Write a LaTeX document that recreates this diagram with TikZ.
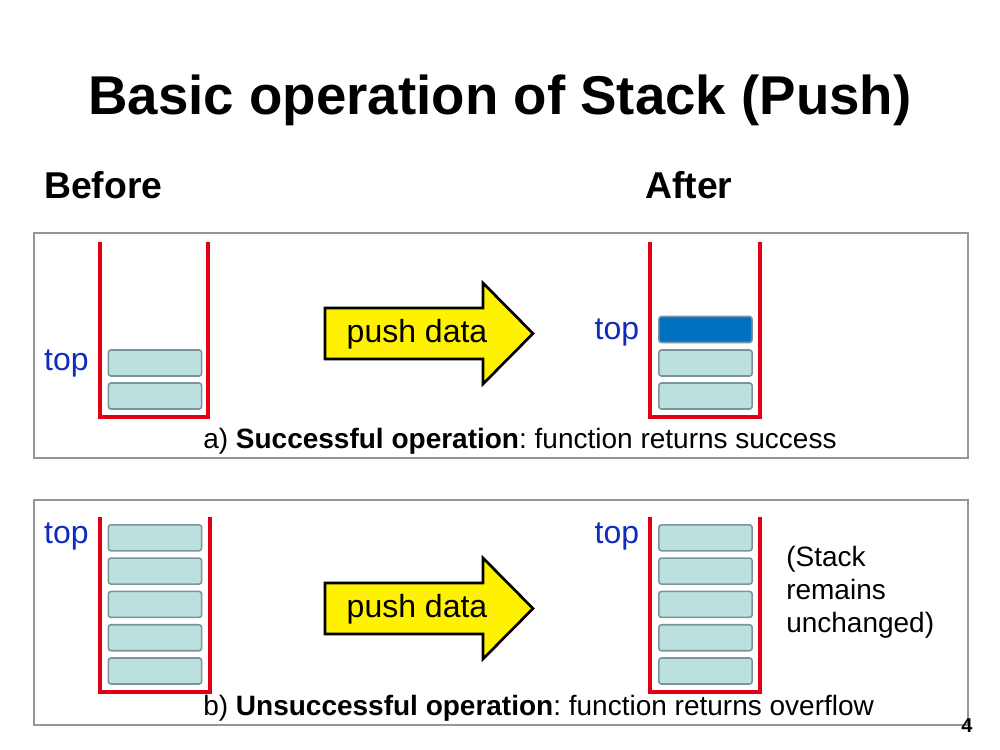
\documentclass[tikz,border=0pt]{standalone}
\usepackage{fontspec}
\setmainfont{Liberation Sans}
\frenchspacing
\usetikzlibrary{calc}
\definecolor{framegray}{RGB}{150,150,150}
\definecolor{wallred}{RGB}{228,0,20}
\definecolor{cellfill}{RGB}{188,224,222}
\definecolor{celldraw}{RGB}{122,148,158}
\definecolor{pushedblue}{RGB}{0,112,192}
\definecolor{labelblue}{RGB}{16,44,190}
\tikzstyle{panel}=[draw=framegray, line width=2pt]
\tikzstyle{wall}=[draw=wallred, line width=2.3pt]
\tikzstyle{cell}=[rectangle,
                  rounded corners=2pt,
                  draw=celldraw,
                  line width=1.2pt,
                  fill=cellfill,
                  minimum width=70pt,
                  minimum height=19.5pt,
                  inner sep=0pt]
\tikzstyle{pushed}=[cell, fill=pushedblue]
\tikzstyle{toplabel}=[text=labelblue, inner sep=0pt, font=\fontsize{24}{28}\selectfont]
\tikzstyle{pusharrow}=[draw=black, line width=2pt, fill=yellow, line join=miter]
\tikzstyle{arrowtext}=[inner sep=0pt, anchor=base, font=\fontsize{24}{28}\selectfont]
\tikzstyle{caption}=[inner sep=0pt, font=\fontsize{21}{24.75}\selectfont]
\begin{document}
\begin{tikzpicture}[x=0.75pt, y=-0.75pt]
    \useasboundingbox (0,0) rectangle (1000,750);
    \node[inner sep=0pt, anchor=base, font=\bfseries\fontsize{41}{48}\selectfont] (title) at (500,114) {Basic operation of Stack (Push)};
    \node[inner sep=0pt, anchor=base west, font=\bfseries\fontsize{28}{33}\selectfont] (before) at (44,198) {Before};
    \node[inner sep=0pt, anchor=base west, font=\bfseries\fontsize{28}{33}\selectfont] (after) at (645,198) {After};

    \draw[panel] (34,233) rectangle (968,458);
    \draw[panel] (34,500) rectangle (968,725);

    \draw[wall] (100,242) |- (208,417) -- (208,242);
    \foreach \i in {1,2}
        \node[cell] (a\i) at (155,{396-33*(\i-1)}) {};
    \node[toplabel, anchor=base east] (topa) at ([xshift=-14pt,yshift=4.5pt]a2.south west) {top};

    \draw[pusharrow] (325,308) -- (483,308) -- (483,283) -- (533,333.5) -- (483,384) -- (483,359) -- (325,359) -- cycle;
    \node[arrowtext] (pusha) at (417,342) {push data};

    \draw[wall] (650,242) |- (760,417) -- (760,242);
    \foreach \i in {1,2}
        \node[cell] (c\i) at (705.5,{396-33*(\i-1)}) {};
    \node[pushed] (c3) at (705.5,329.5) {};
    \node[toplabel, anchor=base east] (topc) at ([xshift=-14pt,yshift=3pt]c3.south west) {top};

    \node[caption, anchor=base west] (capa) at (203,448) {a) \textbf{Successful operation}: function returns success};

    \draw[wall] (100,517) |- (210,692) -- (210,517);
    \foreach \i in {1,...,5}
        \node[cell] (b\i) at (155,{671-33.3*(\i-1)}) {};
    \node[toplabel, anchor=base east] (topb) at ([xshift=-14pt,yshift=6pt]b5.south west) {top};

    \draw[pusharrow] (325,583) -- (483,583) -- (483,558) -- (533,608.5) -- (483,659) -- (483,634) -- (325,634) -- cycle;
    \node[arrowtext] (pushb) at (417,617) {push data};

    \draw[wall] (650,517) |- (760,692) -- (760,517);
    \foreach \i in {1,...,5}
        \node[cell] (d\i) at (705.5,{671-33.3*(\i-1)}) {};
    \node[toplabel, anchor=base east] (topd) at ([xshift=-14pt,yshift=6pt]d5.south west) {top};
    \node[caption, anchor=north west, align=left] (note) at (786,546) {(Stack\\remains\\unchanged)};

    \node[caption, anchor=base west] (capb) at (203,715) {b) \textbf{Unsuccessful operation}: function returns overflow};
    \node[inner sep=0pt, font=\bfseries\fontsize{15}{18}\selectfont] (page) at (967,725.5) {4};
\end{tikzpicture}
\end{document}
